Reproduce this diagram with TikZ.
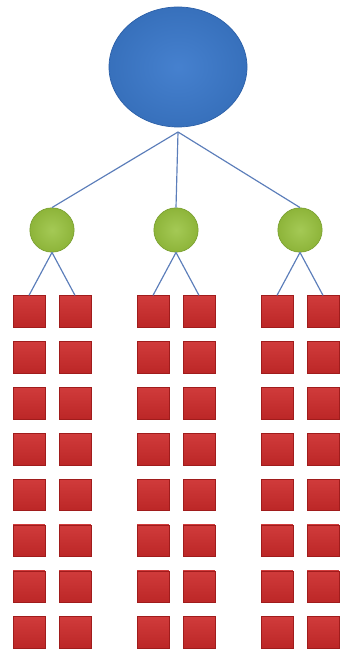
\documentclass[tikz,border=0pt]{standalone}
\usetikzlibrary{shapes.geometric}
\definecolor{kopfblau}{RGB}{60,122,204}
\definecolor{kopfrand}{RGB}{44,96,168}
\definecolor{astgruen}{RGB}{152,194,62}
\definecolor{astrand}{RGB}{118,156,44}
\definecolor{blattrot}{RGB}{204,42,42}
\definecolor{blattrand}{RGB}{160,28,28}
\definecolor{linie}{RGB}{92,126,186}
\tikzset{
  kopf/.style={ellipse, minimum width=4.14cm, minimum height=3.6cm, inner sep=0pt,
    draw=kopfrand, line width=0.6pt, shading=radial,
    inner color=kopfblau!95!white, outer color=kopfblau!92!black},
  ast/.style={circle, minimum size=1.33cm, inner sep=0pt,
    draw=astrand, line width=0.5pt, shading=radial,
    inner color=astgruen!88!white, outer color=astgruen!93!black},
  blatt/.style={rectangle, minimum size=0.95cm, inner sep=0pt,
    draw=blattrand, line width=0.5pt,
    top color=blattrot!92!white, bottom color=blattrot!92!black},
  kante/.style={draw=linie, line width=1pt}
}

\begin{document}
\begin{tikzpicture}[x=0.03cm,y=-0.03cm]

\useasboundingbox (0,0) rectangle (339,654);

\node[kopf] (wurzel) at (178,67) {};
\coordinate (nabe) at (178,132);

\foreach \i/\gx in {1/52,2/176,3/300}{
	\node[ast] (ast\i) at (\gx,230) {};
	\draw[kante] (nabe) -- (ast\i.north);
	\foreach \j/\dx in {1/-23,2/23}{
		\foreach \k in {0,...,7}{
			\node[blatt] (blatt\i-\j-\k) at (\gx+\dx,311.5+45.86*\k) {};
		}
		\draw[kante] (ast\i.south) -- (blatt\i-\j-0.north);
	}
}

\end{tikzpicture}
\end{document}
